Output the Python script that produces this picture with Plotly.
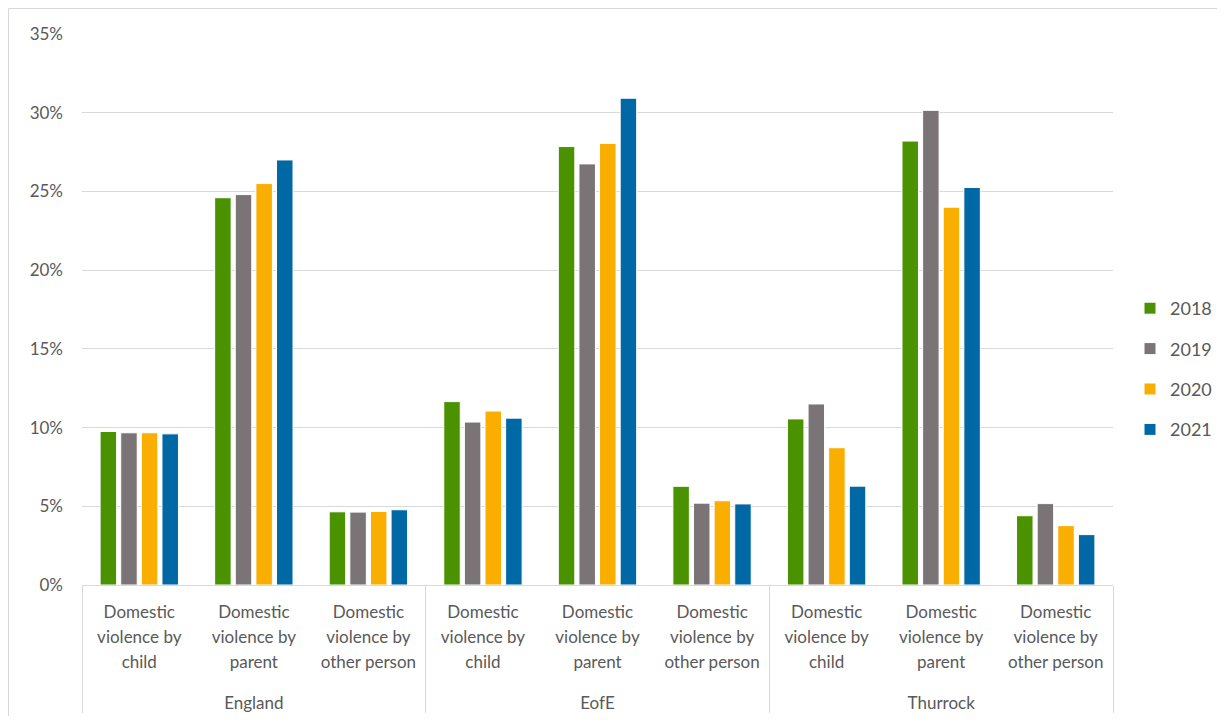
import plotly.graph_objects as go

regions = ["England", "EofE", "Thurrock"]
categories = [
    ["Domestic", "violence by", "child"],
    ["Domestic", "violence by", "parent"],
    ["Domestic", "violence by", "other person"],
]
years = ["2018", "2019", "2020", "2021"]
colors = ["#4B9200", "#7B7477", "#F9AE00", "#0068A5"]

# values in percent, order: England(child, parent, other), EofE(...), Thurrock(...)
v2018 = [9.75, 24.6, 4.65, 11.65, 27.85, 6.27, 10.55, 28.2, 4.4]
v2019 = [9.67, 24.8, 4.63, 10.35, 26.75, 5.2, 11.5, 30.15, 5.17]
v2020 = [9.67, 25.5, 4.67, 11.05, 28.05, 5.35, 8.72, 24.0, 3.77]
v2021 = [9.6, 27.0, 4.78, 10.6, 30.92, 5.15, 6.28, 25.25, 3.2]
series = [v2018, v2019, v2020, v2021]

FONT = "Lato, Open Sans, sans-serif"
TXT = "#595959"
LBL = 17


def lab(lines, extra=False):
    parts = ['<span style="font-size:%dpx">%s</span>' % (LBL, s) for s in lines]
    if extra:
        parts.append('<span style="font-size:%dpx">&nbsp;</span>' % LBL)
    return "<br>".join(parts)


x_outer = [lab([r]) for r in regions for _ in categories]
x_inner = [lab(c, extra=True) for _ in regions for c in categories]

# figure sits at (8, 8) in the page because of the body margin
W, H = 1209, 708
L, R, T, B = 74, 1209 - 1105, 26, 708 - 577
PW, PH = 1105 - 74, 577 - 26

fig = go.Figure()
for name, vals, col in zip(years, series, colors):
    fig.add_trace(go.Bar(
        name=name, x=[x_outer, x_inner], y=vals,
        marker=dict(color=col, line=dict(color="white", width=1)),
        legendgroup=name,
    ))

fig.update_layout(
    width=W, height=H,
    paper_bgcolor="white", plot_bgcolor="white",
    margin=dict(l=L, r=R, t=T, b=B, autoexpand=False),
    barmode="group", bargap=0.28, bargroupgap=0.2,
    font=dict(family=FONT, size=17, color=TXT),
    legend=dict(x=(1122 - 74) / PW, xanchor="left",
                y=(577 - 361) / PH, yanchor="middle",
                font=dict(size=18, color=TXT), tracegroupgap=14,
                itemwidth=30, bgcolor="rgba(0,0,0,0)"),
    showlegend=True,
)
fig.update_yaxes(
    range=[0, 35], dtick=5, ticksuffix="%",
    showgrid=True, gridcolor="#D9D9D9", gridwidth=1,
    zeroline=False, showline=False,
    tickfont=dict(family=FONT, size=17, color=TXT), ticklabelstandoff=18,
)
fig.update_xaxes(
    type="multicategory",
    showline=True, linecolor="#D9D9D9", linewidth=1,
    ticks="", showdividers=True, dividercolor="#D9D9D9", dividerwidth=1,
    tickfont=dict(family=FONT, size=19.6, color=TXT), ticklabelstandoff=8,
)
# outer chart frame
fig.add_shape(type="rect", xref="paper", yref="paper",
              x0=(0.5 - L) / PW, x1=1.3, y0=-0.5, y1=(577 - 0.5) / PH,
              line=dict(color="#D9D9D9", width=1), layer="below")

fig.write_html("out.html")
